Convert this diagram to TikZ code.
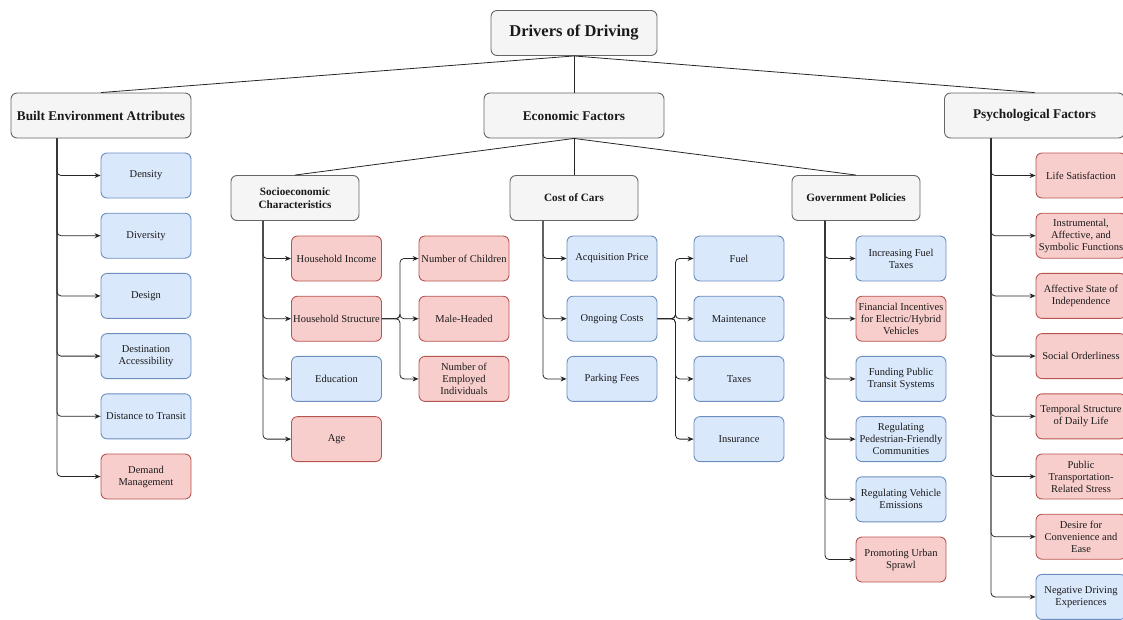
\documentclass[tikz,border=0pt]{standalone}
\usepackage{fontspec}
\setmainfont{Liberation Serif}
\usepackage{xcolor}
\definecolor{boxgray}{HTML}{F5F5F5}
\definecolor{linegray}{HTML}{666666}
\definecolor{boxblue}{HTML}{DAE8FC}
\definecolor{lineblue}{HTML}{6C8EBF}
\definecolor{boxred}{HTML}{F8CECC}
\definecolor{linered}{HTML}{B85450}
\definecolor{txtcolor}{HTML}{1A1A1A}
\usepackage{tikz}
\usetikzlibrary{arrows.meta, positioning}

\begin{document}
\begin{tikzpicture}[x=1pt, y=-1pt, node distance=14.3pt,
    box/.style={draw, rectangle, rounded corners=6pt, align=center, line width=0.9pt, text=txtcolor, inner sep=1.5pt},
    rootbox/.style={box, fill=boxgray, draw=linegray, minimum width=166pt, minimum height=45pt, font=\fontsize{16.5}{19}\selectfont\bfseries},
    headbox/.style={box, fill=boxgray, draw=linegray, minimum width=180pt, minimum height=45pt, font=\fontsize{13.3}{15}\selectfont\bfseries},
    subbox/.style={box, fill=boxgray, draw=linegray, minimum width=128pt, minimum height=45pt, font=\fontsize{11.2}{13}\selectfont\bfseries},
    leaf/.style={box, minimum width=90pt, minimum height=45pt, font=\fontsize{10.5}{12}\selectfont},
    blueleaf/.style={leaf, fill=boxblue, draw=lineblue},
    redleaf/.style={leaf, fill=boxred, draw=linered},
    link/.style={draw=black!85, line width=0.8pt},
    arr/.style={link, rounded corners=4pt, -{Stealth[length=6pt, width=5pt]}}
]

    \useasboundingbox (0,0) rectangle (1123,619);

    % Top box
    \node[rootbox] (root) at (574,33) {Drivers of Driving};

    % First level
    \node[headbox] (built) at (101,115.5) {Built Environment Attributes};
    \node[headbox] (econ) at (574,115.5) {Economic Factors};
    \node[headbox] (psych) at (1034.5,115.5) {Psychological Factors};

    \draw[link] (root.south) -- (built.north);
    \draw[link] (root.south) -- (econ.north);
    \draw[link] (root.south) -- (psych.north);

    % Second level under economic factors
    \node[subbox] (socio) at (295,198) {Socioeconomic\\Characteristics};
    \node[subbox] (cost) at (574,198) {Cost of Cars};
    \node[subbox] (gov) at (856,198) {Government Policies};

    \draw[link] (econ.south) -- (socio.north);
    \draw[link] (econ.south) -- (cost.north);
    \draw[link] (econ.south) -- (gov.north);

    % Built environment column
    \node[blueleaf] (density) at (146,175.5) {Density};
    \node[blueleaf, below=of density] (diversity) {Diversity};
    \node[blueleaf, below=of diversity] (design) {Design};
    \node[blueleaf, below=of design] (access) {Destination\\Accessibility};
    \node[blueleaf, below=of access] (transit) {Distance to Transit};
    \node[redleaf, below=of transit] (demand) {Demand\\Management};

    \foreach \leafname in {density, diversity, design, access, transit, demand}
        \draw[arr] ([xshift=-44pt]built.south) |- (\leafname);

    % Socioeconomic column
    \node[redleaf] (income) at (336.5,258.5) {Household Income};
    \node[redleaf, below=of income] (structure) {Household Structure};
    \node[blueleaf, below=of structure] (education) {Education};
    \node[redleaf, below=of education] (age) {Age};

    \foreach \leafname in {income, structure, education, age}
        \draw[arr] ([xshift=-32pt]socio.south) |- (\leafname);

    % Household structure branches
    \node[redleaf] (children) at (464,258.5) {Number of Children};
    \node[redleaf, below=of children] (maleheaded) {Male-Headed};
    \node[redleaf, below=of maleheaded] (employed) {Number of\\Employed\\Individuals};

    \foreach \leafname in {children, maleheaded, employed}
        \draw[arr] (structure.east) -- ++(18,0) |- (\leafname);

    % Cost of cars column
    \node[blueleaf] (acquisition) at (612,258.5) {Acquisition Price};
    \node[blueleaf, below=of acquisition] (ongoing) {Ongoing Costs};
    \node[blueleaf, below=of ongoing] (parking) {Parking Fees};

    \foreach \leafname in {acquisition, ongoing, parking}
        \draw[arr] ([xshift=-31pt]cost.south) |- (\leafname);

    % Ongoing costs branches
    \node[blueleaf] (fuel) at (739,258.5) {Fuel};
    \node[blueleaf, below=of fuel] (maintenance) {Maintenance};
    \node[blueleaf, below=of maintenance] (taxes) {Taxes};
    \node[blueleaf, below=of taxes] (insurance) {Insurance};

    \foreach \leafname in {fuel, maintenance, taxes, insurance}
        \draw[arr] (ongoing.east) -- ++(18,0) |- (\leafname);

    % Government policies column
    \node[blueleaf] (fueltax) at (901,258.5) {Increasing Fuel\\Taxes};
    \node[redleaf, below=of fueltax] (incentives) {Financial Incentives\\for Electric/Hybrid\\Vehicles};
    \node[blueleaf, below=of incentives] (funding) {Funding Public\\Transit Systems};
    \node[blueleaf, below=of funding] (pedestrian) {Regulating\\Pedestrian-Friendly\\Communities};
    \node[blueleaf, below=of pedestrian] (emissions) {Regulating Vehicle\\Emissions};
    \node[redleaf, below=of emissions] (sprawl) {Promoting Urban\\Sprawl};

    \foreach \leafname in {fueltax, incentives, funding, pedestrian, emissions, sprawl}
        \draw[arr] ([xshift=-31pt]gov.south) |- (\leafname);

    % Psychological column
    \node[redleaf] (lifesat) at (1081,175.5) {Life Satisfaction};
    \node[redleaf, below=of lifesat] (functions) {Instrumental,\\Affective, and\\Symbolic Functions};
    \node[redleaf, below=of functions] (independence) {Affective State of\\Independence};
    \node[redleaf, below=of independence] (orderliness) {Social Orderliness};
    \node[redleaf, below=of orderliness] (temporal) {Temporal Structure\\of Daily Life};
    \node[redleaf, below=of temporal] (stress) {Public\\Transportation-\\Related Stress};
    \node[redleaf, below=of stress] (convenience) {Desire for\\Convenience and\\Ease};
    \node[blueleaf, below=of convenience] (negative) {Negative Driving\\Experiences};

    \foreach \leafname in {lifesat, functions, independence, orderliness, temporal, stress, convenience, negative}
        \draw[arr] ([xshift=-43.5pt]psych.south) |- (\leafname);

\end{tikzpicture}
\end{document}
